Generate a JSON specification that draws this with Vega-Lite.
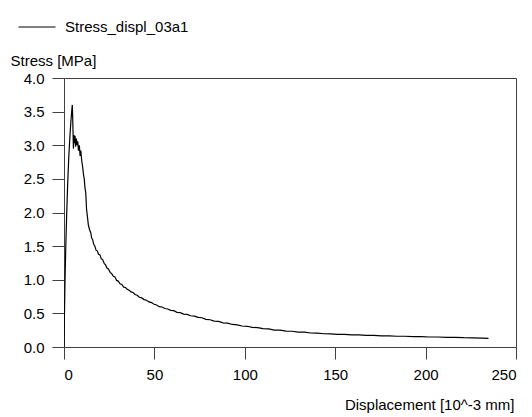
{
  "$schema": "https://vega.github.io/schema/vega-lite/v6.json",
  "autosize": {"type": "none"},
  "padding": {"left": 64, "top": 78, "right": 16, "bottom": 70},
  "width": 452,
  "height": 269,
  "background": "white",
  "config": {
    "font": "Liberation Sans",
    "view": {"stroke": "#404040", "strokeWidth": 1},
    "axis": {
      "grid": false,
      "domainColor": "#404040",
      "tickColor": "#404040",
      "tickSize": 12,
      "labelFont": "Liberation Sans",
      "labelFontSize": 15,
      "labelColor": "#000000",
      "titleFont": "Liberation Sans",
      "titleFontSize": 15,
      "titleFontWeight": "normal",
      "titleColor": "#000000"
    }
  },
  "data": {
    "values": [
      {"series": "Stress_displ_03a1", "d": 0, "s": 0},
      {"series": "Stress_displ_03a1", "d": 0.2, "s": 0.4},
      {"series": "Stress_displ_03a1", "d": 0.5, "s": 0.9},
      {"series": "Stress_displ_03a1", "d": 0.9, "s": 1.4},
      {"series": "Stress_displ_03a1", "d": 1.4, "s": 1.9},
      {"series": "Stress_displ_03a1", "d": 2.0, "s": 2.4},
      {"series": "Stress_displ_03a1", "d": 2.6, "s": 2.8},
      {"series": "Stress_displ_03a1", "d": 3.2, "s": 3.1},
      {"series": "Stress_displ_03a1", "d": 3.8, "s": 3.35},
      {"series": "Stress_displ_03a1", "d": 4.3, "s": 3.52},
      {"series": "Stress_displ_03a1", "d": 4.6, "s": 3.6},
      {"series": "Stress_displ_03a1", "d": 4.8, "s": 3.42},
      {"series": "Stress_displ_03a1", "d": 5.0, "s": 3.2},
      {"series": "Stress_displ_03a1", "d": 5.2, "s": 2.95},
      {"series": "Stress_displ_03a1", "d": 5.5, "s": 3.15},
      {"series": "Stress_displ_03a1", "d": 5.8, "s": 3.03},
      {"series": "Stress_displ_03a1", "d": 6.1, "s": 3.14},
      {"series": "Stress_displ_03a1", "d": 6.4, "s": 2.98},
      {"series": "Stress_displ_03a1", "d": 6.8, "s": 3.1},
      {"series": "Stress_displ_03a1", "d": 7.2, "s": 3.0},
      {"series": "Stress_displ_03a1", "d": 7.6, "s": 3.06},
      {"series": "Stress_displ_03a1", "d": 8.0, "s": 2.92},
      {"series": "Stress_displ_03a1", "d": 8.5, "s": 3.0},
      {"series": "Stress_displ_03a1", "d": 8.9, "s": 2.84},
      {"series": "Stress_displ_03a1", "d": 9.3, "s": 2.92},
      {"series": "Stress_displ_03a1", "d": 9.8, "s": 2.77},
      {"series": "Stress_displ_03a1", "d": 10.3, "s": 2.68},
      {"series": "Stress_displ_03a1", "d": 10.8, "s": 2.56},
      {"series": "Stress_displ_03a1", "d": 11.2, "s": 2.5},
      {"series": "Stress_displ_03a1", "d": 11.6, "s": 2.37},
      {"series": "Stress_displ_03a1", "d": 12.0, "s": 2.3},
      {"series": "Stress_displ_03a1", "d": 12.5, "s": 2.04},
      {"series": "Stress_displ_03a1", "d": 12.9, "s": 1.95},
      {"series": "Stress_displ_03a1", "d": 13.5, "s": 1.81},
      {"series": "Stress_displ_03a1", "d": 14.2, "s": 1.74},
      {"series": "Stress_displ_03a1", "d": 14.8, "s": 1.7},
      {"series": "Stress_displ_03a1", "d": 15.3, "s": 1.62},
      {"series": "Stress_displ_03a1", "d": 15.8, "s": 1.6},
      {"series": "Stress_displ_03a1", "d": 16.4, "s": 1.53},
      {"series": "Stress_displ_03a1", "d": 17.1, "s": 1.5},
      {"series": "Stress_displ_03a1", "d": 17.7, "s": 1.44},
      {"series": "Stress_displ_03a1", "d": 18.4, "s": 1.43},
      {"series": "Stress_displ_03a1", "d": 19.1, "s": 1.38},
      {"series": "Stress_displ_03a1", "d": 19.9, "s": 1.37},
      {"series": "Stress_displ_03a1", "d": 20.6, "s": 1.31},
      {"series": "Stress_displ_03a1", "d": 21.4, "s": 1.3},
      {"series": "Stress_displ_03a1", "d": 22.3, "s": 1.24},
      {"series": "Stress_displ_03a1", "d": 23.0, "s": 1.22},
      {"series": "Stress_displ_03a1", "d": 23.8, "s": 1.17},
      {"series": "Stress_displ_03a1", "d": 24.6, "s": 1.16},
      {"series": "Stress_displ_03a1", "d": 25.5, "s": 1.11},
      {"series": "Stress_displ_03a1", "d": 26.4, "s": 1.09},
      {"series": "Stress_displ_03a1", "d": 27.3, "s": 1.05},
      {"series": "Stress_displ_03a1", "d": 28.2, "s": 1.04},
      {"series": "Stress_displ_03a1", "d": 29.1, "s": 0.99},
      {"series": "Stress_displ_03a1", "d": 30.0, "s": 0.98},
      {"series": "Stress_displ_03a1", "d": 31.0, "s": 0.94},
      {"series": "Stress_displ_03a1", "d": 32.0, "s": 0.93},
      {"series": "Stress_displ_03a1", "d": 33.0, "s": 0.89},
      {"series": "Stress_displ_03a1", "d": 34.0, "s": 0.885},
      {"series": "Stress_displ_03a1", "d": 35.0, "s": 0.86},
      {"series": "Stress_displ_03a1", "d": 36.0, "s": 0.845},
      {"series": "Stress_displ_03a1", "d": 37.1, "s": 0.82},
      {"series": "Stress_displ_03a1", "d": 38.2, "s": 0.81},
      {"series": "Stress_displ_03a1", "d": 39.3, "s": 0.78},
      {"series": "Stress_displ_03a1", "d": 40.5, "s": 0.77},
      {"series": "Stress_displ_03a1", "d": 41.7, "s": 0.74},
      {"series": "Stress_displ_03a1", "d": 43.0, "s": 0.73},
      {"series": "Stress_displ_03a1", "d": 44.3, "s": 0.705},
      {"series": "Stress_displ_03a1", "d": 45.6, "s": 0.695},
      {"series": "Stress_displ_03a1", "d": 47.0, "s": 0.67},
      {"series": "Stress_displ_03a1", "d": 48.4, "s": 0.66},
      {"series": "Stress_displ_03a1", "d": 49.8, "s": 0.635},
      {"series": "Stress_displ_03a1", "d": 51.2, "s": 0.625},
      {"series": "Stress_displ_03a1", "d": 52.7, "s": 0.6},
      {"series": "Stress_displ_03a1", "d": 54.2, "s": 0.595},
      {"series": "Stress_displ_03a1", "d": 55.8, "s": 0.572},
      {"series": "Stress_displ_03a1", "d": 57.4, "s": 0.565},
      {"series": "Stress_displ_03a1", "d": 59.0, "s": 0.545},
      {"series": "Stress_displ_03a1", "d": 60.7, "s": 0.54},
      {"series": "Stress_displ_03a1", "d": 62.5, "s": 0.515},
      {"series": "Stress_displ_03a1", "d": 64.3, "s": 0.51},
      {"series": "Stress_displ_03a1", "d": 66.2, "s": 0.49},
      {"series": "Stress_displ_03a1", "d": 68.1, "s": 0.485},
      {"series": "Stress_displ_03a1", "d": 70.1, "s": 0.465},
      {"series": "Stress_displ_03a1", "d": 72.1, "s": 0.46},
      {"series": "Stress_displ_03a1", "d": 74.2, "s": 0.44},
      {"series": "Stress_displ_03a1", "d": 76.3, "s": 0.435},
      {"series": "Stress_displ_03a1", "d": 78.5, "s": 0.41},
      {"series": "Stress_displ_03a1", "d": 80.8, "s": 0.405},
      {"series": "Stress_displ_03a1", "d": 83.1, "s": 0.385},
      {"series": "Stress_displ_03a1", "d": 85.5, "s": 0.38},
      {"series": "Stress_displ_03a1", "d": 88.0, "s": 0.36},
      {"series": "Stress_displ_03a1", "d": 90.5, "s": 0.355},
      {"series": "Stress_displ_03a1", "d": 93.1, "s": 0.335},
      {"series": "Stress_displ_03a1", "d": 95.8, "s": 0.33},
      {"series": "Stress_displ_03a1", "d": 98.5, "s": 0.312},
      {"series": "Stress_displ_03a1", "d": 101.3, "s": 0.308},
      {"series": "Stress_displ_03a1", "d": 104.2, "s": 0.292},
      {"series": "Stress_displ_03a1", "d": 107.1, "s": 0.287},
      {"series": "Stress_displ_03a1", "d": 110.1, "s": 0.272},
      {"series": "Stress_displ_03a1", "d": 113.2, "s": 0.27},
      {"series": "Stress_displ_03a1", "d": 116.3, "s": 0.252},
      {"series": "Stress_displ_03a1", "d": 119.5, "s": 0.25},
      {"series": "Stress_displ_03a1", "d": 122.8, "s": 0.236},
      {"series": "Stress_displ_03a1", "d": 126.1, "s": 0.234},
      {"series": "Stress_displ_03a1", "d": 129.5, "s": 0.222},
      {"series": "Stress_displ_03a1", "d": 133.0, "s": 0.22},
      {"series": "Stress_displ_03a1", "d": 136.5, "s": 0.208},
      {"series": "Stress_displ_03a1", "d": 140.1, "s": 0.207},
      {"series": "Stress_displ_03a1", "d": 143.8, "s": 0.197},
      {"series": "Stress_displ_03a1", "d": 147.5, "s": 0.196},
      {"series": "Stress_displ_03a1", "d": 151.3, "s": 0.188},
      {"series": "Stress_displ_03a1", "d": 155.2, "s": 0.187},
      {"series": "Stress_displ_03a1", "d": 159.1, "s": 0.18},
      {"series": "Stress_displ_03a1", "d": 163.1, "s": 0.179},
      {"series": "Stress_displ_03a1", "d": 167.2, "s": 0.173},
      {"series": "Stress_displ_03a1", "d": 171.3, "s": 0.172},
      {"series": "Stress_displ_03a1", "d": 175.5, "s": 0.166},
      {"series": "Stress_displ_03a1", "d": 179.8, "s": 0.166},
      {"series": "Stress_displ_03a1", "d": 184.1, "s": 0.16},
      {"series": "Stress_displ_03a1", "d": 188.5, "s": 0.16},
      {"series": "Stress_displ_03a1", "d": 193.0, "s": 0.154},
      {"series": "Stress_displ_03a1", "d": 197.5, "s": 0.154},
      {"series": "Stress_displ_03a1", "d": 202.1, "s": 0.149},
      {"series": "Stress_displ_03a1", "d": 206.8, "s": 0.149},
      {"series": "Stress_displ_03a1", "d": 211.5, "s": 0.144},
      {"series": "Stress_displ_03a1", "d": 216.3, "s": 0.143},
      {"series": "Stress_displ_03a1", "d": 221.2, "s": 0.138},
      {"series": "Stress_displ_03a1", "d": 226.1, "s": 0.137},
      {"series": "Stress_displ_03a1", "d": 231.0, "s": 0.132},
      {"series": "Stress_displ_03a1", "d": 234.8, "s": 0.129}
    ]
  },
  "mark": {"type": "line", "strokeWidth": 1.2, "clip": true},
  "encoding": {
    "x": {
      "field": "d",
      "type": "quantitative",
      "scale": {"domain": [0, 250], "nice": false, "zero": false},
      "axis": {
        "values": [0, 50, 100, 150, 200, 250],
        "labelPadding": 8,
        "title": "Displacement [10^-3 mm]",
        "titleAnchor": "end",
        "titleAlign": "right",
        "titleBaseline": "middle",
        "titleX": 450,
        "titleY": 57
      }
    },
    "y": {
      "field": "s",
      "type": "quantitative",
      "scale": {"domain": [0, 4], "nice": false, "zero": false},
      "axis": {
        "values": [0, 0.5, 1, 1.5, 2, 2.5, 3, 3.5, 4],
        "format": ".1f",
        "labelPadding": 8,
        "title": "Stress [MPa]",
        "titleAngle": 0,
        "titleAlign": "left",
        "titleBaseline": "middle",
        "titleX": -54,
        "titleY": -18
      }
    },
    "color": {
      "field": "series",
      "type": "nominal",
      "scale": {"domain": ["Stress_displ_03a1"], "range": ["#000000"]},
      "legend": {
        "title": null,
        "orient": "none",
        "legendX": -46,
        "legendY": -70,
        "symbolType": "stroke",
        "symbolSize": 1369,
        "symbolStrokeWidth": 1,
        "labelFont": "Liberation Sans",
        "labelFontSize": 15,
        "labelColor": "#000000",
        "labelOffset": 9
      }
    }
  }
}
